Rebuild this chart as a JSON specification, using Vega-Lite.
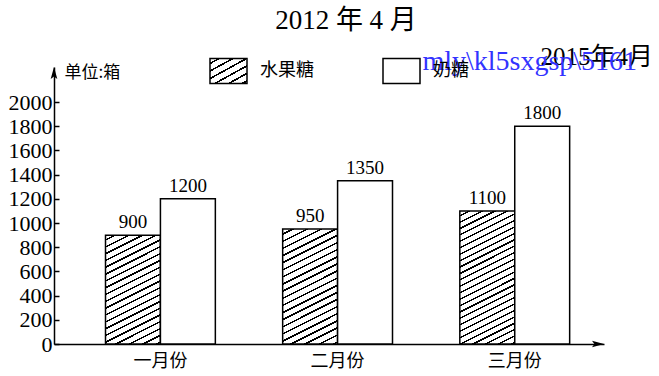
{
  "$schema": "https://vega.github.io/schema/vega-lite/v6.json",
  "width": 550,
  "height": 277,
  "autosize": {"type": "none"},
  "padding": {"left": 54, "top": 67, "right": 55, "bottom": 32},
  "background": "white",
  "title": {
    "text": "2012 年 4 月",
    "font": "Liberation Serif, Noto Sans CJK SC",
    "fontSize": 27,
    "fontWeight": "normal",
    "color": "black",
    "anchor": "middle",
    "dx": 17,
    "offset": 10
  },
  "data": {
    "values": [
      {"月份": "一月份", "品种": "水果糖", "箱数": 900},
      {"月份": "一月份", "品种": "奶糖", "箱数": 1200},
      {"月份": "二月份", "品种": "水果糖", "箱数": 950},
      {"月份": "二月份", "品种": "奶糖", "箱数": 1350},
      {"月份": "三月份", "品种": "水果糖", "箱数": 1100},
      {"月份": "三月份", "品种": "奶糖", "箱数": 1800}
    ]
  },
  "encoding": {
    "x": {
      "field": "月份",
      "type": "nominal",
      "scale": {"domain": ["一月份", "二月份", "三月份"], "paddingInner": 0.38, "paddingOuter": 0.2423, "align": 0.6},
      "axis": {
        "title": null,
        "ticks": false,
        "labelAngle": 0,
        "domainColor": "black",
        "domainWidth": 1.5,
        "labelFont": "Noto Sans CJK SC",
        "labelFontSize": 18,
        "labelColor": "black",
        "labelPadding": 8
      }
    },
    "xOffset": {"field": "品种", "type": "nominal", "scale": {"domain": ["水果糖", "奶糖"], "paddingInner": 0, "paddingOuter": 0}},
    "y": {
      "field": "箱数",
      "type": "quantitative",
      "scale": {"domain": [0, 2290], "nice": false, "zero": true},
      "axis": {
        "values": [0, 200, 400, 600, 800, 1000, 1200, 1400, 1600, 1800, 2000],
        "format": "d",
        "grid": false,
        "domainColor": "black",
        "domainWidth": 1.5,
        "tickColor": "black",
        "tickWidth": 1.5,
        "tickSize": -5,
        "labelPadding": 7,
        "labelFont": "Liberation Serif",
        "labelFontSize": 22,
        "labelColor": "black",
        "labelOverlap": false,
        "labelFlush": false,
        "title": "单位:箱",
        "titleAngle": 0,
        "titleX": 10,
        "titleY": 5,
        "titleAlign": "left",
        "titleBaseline": "middle",
        "titleFont": "Noto Sans CJK SC",
        "titleFontSize": 17,
        "titleFontWeight": "normal",
        "titleColor": "black"
      }
    }
  },
  "layer": [
    {
      "mark": {"type": "bar", "strokeWidth": 1.5, "opacity": 1},
      "encoding": {
        "fill": {
          "condition": [
            {
              "test": "datum['品种'] === '水果糖' && datum['月份'] === '一月份'",
              "value": {"gradient": "linear", "x1": 0, "y1": 0, "x2": 0.2973, "y2": 1.1774, "stops": [
                {"offset":0.03,"color":"#fff"},{"offset":0.03,"color":"#000"},{"offset":0.0425,"color":"#000"},{"offset":0.0425,"color":"#fff"},
                {"offset":0.08,"color":"#fff"},{"offset":0.08,"color":"#000"},{"offset":0.0925,"color":"#000"},{"offset":0.0925,"color":"#fff"},
                {"offset":0.13,"color":"#fff"},{"offset":0.13,"color":"#000"},{"offset":0.1425,"color":"#000"},{"offset":0.1425,"color":"#fff"},
                {"offset":0.18,"color":"#fff"},{"offset":0.18,"color":"#000"},{"offset":0.1925,"color":"#000"},{"offset":0.1925,"color":"#fff"},
                {"offset":0.23,"color":"#fff"},{"offset":0.23,"color":"#000"},{"offset":0.2425,"color":"#000"},{"offset":0.2425,"color":"#fff"},
                {"offset":0.28,"color":"#fff"},{"offset":0.28,"color":"#000"},{"offset":0.2925,"color":"#000"},{"offset":0.2925,"color":"#fff"},
                {"offset":0.33,"color":"#fff"},{"offset":0.33,"color":"#000"},{"offset":0.3425,"color":"#000"},{"offset":0.3425,"color":"#fff"},
                {"offset":0.38,"color":"#fff"},{"offset":0.38,"color":"#000"},{"offset":0.3925,"color":"#000"},{"offset":0.3925,"color":"#fff"},
                {"offset":0.43,"color":"#fff"},{"offset":0.43,"color":"#000"},{"offset":0.4425,"color":"#000"},{"offset":0.4425,"color":"#fff"},
                {"offset":0.48,"color":"#fff"},{"offset":0.48,"color":"#000"},{"offset":0.4925,"color":"#000"},{"offset":0.4925,"color":"#fff"},
                {"offset":0.53,"color":"#fff"},{"offset":0.53,"color":"#000"},{"offset":0.5425,"color":"#000"},{"offset":0.5425,"color":"#fff"},
                {"offset":0.58,"color":"#fff"},{"offset":0.58,"color":"#000"},{"offset":0.5925,"color":"#000"},{"offset":0.5925,"color":"#fff"},
                {"offset":0.63,"color":"#fff"},{"offset":0.63,"color":"#000"},{"offset":0.6425,"color":"#000"},{"offset":0.6425,"color":"#fff"},
                {"offset":0.68,"color":"#fff"},{"offset":0.68,"color":"#000"},{"offset":0.6925,"color":"#000"},{"offset":0.6925,"color":"#fff"},
                {"offset":0.73,"color":"#fff"},{"offset":0.73,"color":"#000"},{"offset":0.7425,"color":"#000"},{"offset":0.7425,"color":"#fff"},
                {"offset":0.78,"color":"#fff"},{"offset":0.78,"color":"#000"},{"offset":0.7925,"color":"#000"},{"offset":0.7925,"color":"#fff"},
                {"offset":0.83,"color":"#fff"},{"offset":0.83,"color":"#000"},{"offset":0.8425,"color":"#000"},{"offset":0.8425,"color":"#fff"},
                {"offset":0.88,"color":"#fff"},{"offset":0.88,"color":"#000"},{"offset":0.8925,"color":"#000"},{"offset":0.8925,"color":"#fff"},
                {"offset":0.93,"color":"#fff"},{"offset":0.93,"color":"#000"},{"offset":0.9425,"color":"#000"},{"offset":0.9425,"color":"#fff"},
                {"offset":0.98,"color":"#fff"},{"offset":0.98,"color":"#000"},{"offset":0.9925,"color":"#000"},{"offset":0.9925,"color":"#fff"}
              ]}
            },
            {
              "test": "datum['品种'] === '水果糖' && datum['月份'] === '二月份'",
              "value": {"gradient": "linear", "x1": 0, "y1": 0, "x2": 0.2805, "y2": 1.1722, "stops": [
                {"offset":0.03,"color":"#fff"},{"offset":0.03,"color":"#000"},{"offset":0.0425,"color":"#000"},{"offset":0.0425,"color":"#fff"},
                {"offset":0.08,"color":"#fff"},{"offset":0.08,"color":"#000"},{"offset":0.0925,"color":"#000"},{"offset":0.0925,"color":"#fff"},
                {"offset":0.13,"color":"#fff"},{"offset":0.13,"color":"#000"},{"offset":0.1425,"color":"#000"},{"offset":0.1425,"color":"#fff"},
                {"offset":0.18,"color":"#fff"},{"offset":0.18,"color":"#000"},{"offset":0.1925,"color":"#000"},{"offset":0.1925,"color":"#fff"},
                {"offset":0.23,"color":"#fff"},{"offset":0.23,"color":"#000"},{"offset":0.2425,"color":"#000"},{"offset":0.2425,"color":"#fff"},
                {"offset":0.28,"color":"#fff"},{"offset":0.28,"color":"#000"},{"offset":0.2925,"color":"#000"},{"offset":0.2925,"color":"#fff"},
                {"offset":0.33,"color":"#fff"},{"offset":0.33,"color":"#000"},{"offset":0.3425,"color":"#000"},{"offset":0.3425,"color":"#fff"},
                {"offset":0.38,"color":"#fff"},{"offset":0.38,"color":"#000"},{"offset":0.3925,"color":"#000"},{"offset":0.3925,"color":"#fff"},
                {"offset":0.43,"color":"#fff"},{"offset":0.43,"color":"#000"},{"offset":0.4425,"color":"#000"},{"offset":0.4425,"color":"#fff"},
                {"offset":0.48,"color":"#fff"},{"offset":0.48,"color":"#000"},{"offset":0.4925,"color":"#000"},{"offset":0.4925,"color":"#fff"},
                {"offset":0.53,"color":"#fff"},{"offset":0.53,"color":"#000"},{"offset":0.5425,"color":"#000"},{"offset":0.5425,"color":"#fff"},
                {"offset":0.58,"color":"#fff"},{"offset":0.58,"color":"#000"},{"offset":0.5925,"color":"#000"},{"offset":0.5925,"color":"#fff"},
                {"offset":0.63,"color":"#fff"},{"offset":0.63,"color":"#000"},{"offset":0.6425,"color":"#000"},{"offset":0.6425,"color":"#fff"},
                {"offset":0.68,"color":"#fff"},{"offset":0.68,"color":"#000"},{"offset":0.6925,"color":"#000"},{"offset":0.6925,"color":"#fff"},
                {"offset":0.73,"color":"#fff"},{"offset":0.73,"color":"#000"},{"offset":0.7425,"color":"#000"},{"offset":0.7425,"color":"#fff"},
                {"offset":0.78,"color":"#fff"},{"offset":0.78,"color":"#000"},{"offset":0.7925,"color":"#000"},{"offset":0.7925,"color":"#fff"},
                {"offset":0.83,"color":"#fff"},{"offset":0.83,"color":"#000"},{"offset":0.8425,"color":"#000"},{"offset":0.8425,"color":"#fff"},
                {"offset":0.88,"color":"#fff"},{"offset":0.88,"color":"#000"},{"offset":0.8925,"color":"#000"},{"offset":0.8925,"color":"#fff"},
                {"offset":0.93,"color":"#fff"},{"offset":0.93,"color":"#000"},{"offset":0.9425,"color":"#000"},{"offset":0.9425,"color":"#fff"},
                {"offset":0.98,"color":"#fff"},{"offset":0.98,"color":"#000"},{"offset":0.9925,"color":"#000"},{"offset":0.9925,"color":"#fff"}
              ]}
            },
            {
              "test": "datum['品种'] === '水果糖' && datum['月份'] === '三月份'",
              "value": {"gradient": "linear", "x1": 0, "y1": 0, "x2": 0.2391, "y2": 1.1572, "stops": [
                {"offset":0.025,"color":"#fff"},{"offset":0.025,"color":"#000"},{"offset":0.035,"color":"#000"},{"offset":0.035,"color":"#fff"},
                {"offset":0.065,"color":"#fff"},{"offset":0.065,"color":"#000"},{"offset":0.075,"color":"#000"},{"offset":0.075,"color":"#fff"},
                {"offset":0.105,"color":"#fff"},{"offset":0.105,"color":"#000"},{"offset":0.115,"color":"#000"},{"offset":0.115,"color":"#fff"},
                {"offset":0.145,"color":"#fff"},{"offset":0.145,"color":"#000"},{"offset":0.155,"color":"#000"},{"offset":0.155,"color":"#fff"},
                {"offset":0.185,"color":"#fff"},{"offset":0.185,"color":"#000"},{"offset":0.195,"color":"#000"},{"offset":0.195,"color":"#fff"},
                {"offset":0.225,"color":"#fff"},{"offset":0.225,"color":"#000"},{"offset":0.235,"color":"#000"},{"offset":0.235,"color":"#fff"},
                {"offset":0.265,"color":"#fff"},{"offset":0.265,"color":"#000"},{"offset":0.275,"color":"#000"},{"offset":0.275,"color":"#fff"},
                {"offset":0.305,"color":"#fff"},{"offset":0.305,"color":"#000"},{"offset":0.315,"color":"#000"},{"offset":0.315,"color":"#fff"},
                {"offset":0.345,"color":"#fff"},{"offset":0.345,"color":"#000"},{"offset":0.355,"color":"#000"},{"offset":0.355,"color":"#fff"},
                {"offset":0.385,"color":"#fff"},{"offset":0.385,"color":"#000"},{"offset":0.395,"color":"#000"},{"offset":0.395,"color":"#fff"},
                {"offset":0.425,"color":"#fff"},{"offset":0.425,"color":"#000"},{"offset":0.435,"color":"#000"},{"offset":0.435,"color":"#fff"},
                {"offset":0.465,"color":"#fff"},{"offset":0.465,"color":"#000"},{"offset":0.475,"color":"#000"},{"offset":0.475,"color":"#fff"},
                {"offset":0.505,"color":"#fff"},{"offset":0.505,"color":"#000"},{"offset":0.515,"color":"#000"},{"offset":0.515,"color":"#fff"},
                {"offset":0.545,"color":"#fff"},{"offset":0.545,"color":"#000"},{"offset":0.555,"color":"#000"},{"offset":0.555,"color":"#fff"},
                {"offset":0.585,"color":"#fff"},{"offset":0.585,"color":"#000"},{"offset":0.595,"color":"#000"},{"offset":0.595,"color":"#fff"},
                {"offset":0.625,"color":"#fff"},{"offset":0.625,"color":"#000"},{"offset":0.635,"color":"#000"},{"offset":0.635,"color":"#fff"},
                {"offset":0.665,"color":"#fff"},{"offset":0.665,"color":"#000"},{"offset":0.675,"color":"#000"},{"offset":0.675,"color":"#fff"},
                {"offset":0.705,"color":"#fff"},{"offset":0.705,"color":"#000"},{"offset":0.715,"color":"#000"},{"offset":0.715,"color":"#fff"},
                {"offset":0.745,"color":"#fff"},{"offset":0.745,"color":"#000"},{"offset":0.755,"color":"#000"},{"offset":0.755,"color":"#fff"},
                {"offset":0.785,"color":"#fff"},{"offset":0.785,"color":"#000"},{"offset":0.795,"color":"#000"},{"offset":0.795,"color":"#fff"},
                {"offset":0.825,"color":"#fff"},{"offset":0.825,"color":"#000"},{"offset":0.835,"color":"#000"},{"offset":0.835,"color":"#fff"},
                {"offset":0.865,"color":"#fff"},{"offset":0.865,"color":"#000"},{"offset":0.875,"color":"#000"},{"offset":0.875,"color":"#fff"},
                {"offset":0.905,"color":"#fff"},{"offset":0.905,"color":"#000"},{"offset":0.915,"color":"#000"},{"offset":0.915,"color":"#fff"},
                {"offset":0.945,"color":"#fff"},{"offset":0.945,"color":"#000"},{"offset":0.955,"color":"#000"},{"offset":0.955,"color":"#fff"},
                {"offset":0.985,"color":"#fff"},{"offset":0.985,"color":"#000"},{"offset":0.995,"color":"#000"},{"offset":0.995,"color":"#fff"}
              ]}
            }
          ],
          "field": "品种",
          "type": "nominal",
          "scale": {
            "domain": ["水果糖", "奶糖"],
            "range": [
              {"expr": "{gradient: 'linear', x1: 0, y1: 0, x2: 0.888, y2: 1.091, stops: [{offset: 0.09, color: '#fff'}, {offset: 0.09, color: '#000'}, {offset: 0.13, color: '#000'}, {offset: 0.13, color: '#fff'}, {offset: 0.2567, color: '#fff'}, {offset: 0.2567, color: '#000'}, {offset: 0.2967, color: '#000'}, {offset: 0.2967, color: '#fff'}, {offset: 0.4233, color: '#fff'}, {offset: 0.4233, color: '#000'}, {offset: 0.4633, color: '#000'}, {offset: 0.4633, color: '#fff'}, {offset: 0.59, color: '#fff'}, {offset: 0.59, color: '#000'}, {offset: 0.63, color: '#000'}, {offset: 0.63, color: '#fff'}, {offset: 0.7567, color: '#fff'}, {offset: 0.7567, color: '#000'}, {offset: 0.7967, color: '#000'}, {offset: 0.7967, color: '#fff'}, {offset: 0.9233, color: '#fff'}, {offset: 0.9233, color: '#000'}, {offset: 0.9633, color: '#000'}, {offset: 0.9633, color: '#fff'}]}"},
              "#ffffff"
            ]
          },
          "legend": {
            "orient": "none",
            "legendX": 155,
            "legendY": -16,
            "direction": "horizontal",
            "title": null,
            "padding": 0,
            "symbolType": "M-1,-0.676H1V0.676H-1Z",
            "symbolSize": 1369,
            "symbolStrokeWidth": 1.5,
            "symbolOpacity": 1,
            "labelFont": "Noto Sans CJK SC",
            "labelFontSize": 18,
            "labelColor": "black",
            "labelOffset": 12,
            "columnPadding": 66
          }
        },
        "stroke": {
          "field": "品种",
          "type": "nominal",
          "scale": {"domain": ["水果糖", "奶糖"], "range": ["#000000", "#000000"]},
          "legend": {
            "orient": "none",
            "legendX": 155,
            "legendY": -16,
            "direction": "horizontal",
            "title": null,
            "padding": 0,
            "symbolType": "M-1,-0.676H1V0.676H-1Z",
            "symbolSize": 1369,
            "symbolStrokeWidth": 1.5,
            "symbolOpacity": 1,
            "labelFont": "Noto Sans CJK SC",
            "labelFontSize": 18,
            "labelColor": "black",
            "labelOffset": 12,
            "columnPadding": 66
          }
        }
      }
    },
    {
      "mark": {"type": "text", "baseline": "bottom", "dy": -3, "font": "Liberation Serif", "fontSize": 19, "color": "black"},
      "encoding": {"text": {"field": "箱数", "type": "quantitative"}}
    },
    {
      "data": {"values": [{}]},
      "mark": {"type": "point", "shape": "M0,0L0.55,2L0,1.6L-0.55,2Z", "filled": true, "color": "black", "opacity": 1, "size": 144},
      "encoding": {"x": {"value": 0}, "y": {"value": 0}, "xOffset": null}
    },
    {
      "data": {"values": [{}]},
      "mark": {"type": "point", "shape": "M0,0L-2,0.55L-1.6,0L-2,-0.55Z", "filled": true, "color": "black", "opacity": 1, "size": 144},
      "encoding": {"x": {"value": "width"}, "y": {"value": "height"}, "xOffset": null}
    },
    {
      "data": {"values": [{"文字": "2015年4月", "月份": "三月份", "高度": 2372}]},
      "mark": {"type": "text", "font": "Liberation Serif, Noto Sans CJK SC", "fontSize": 25, "color": "black", "baseline": "middle", "dx": 82},
      "encoding": {
        "text": {"field": "文字", "type": "nominal"},
        "x": {"field": "月份", "type": "nominal"},
        "y": {"field": "高度", "type": "quantitative"},
        "xOffset": null
      }
    },
    {
      "data": {"values": [{"文字": "mly\\kl5sxgsp\\5161", "月份": "三月份", "高度": 2331}]},
      "mark": {"type": "text", "font": "Liberation Serif", "fontSize": 28, "color": "#3333ff", "baseline": "middle", "dx": 15},
      "encoding": {
        "text": {"field": "文字", "type": "nominal"},
        "x": {"field": "月份", "type": "nominal"},
        "y": {"field": "高度", "type": "quantitative"},
        "xOffset": null
      }
    }
  ],
  "config": {
    "view": {"stroke": null},
    "font": "Liberation Serif"
  }
}
